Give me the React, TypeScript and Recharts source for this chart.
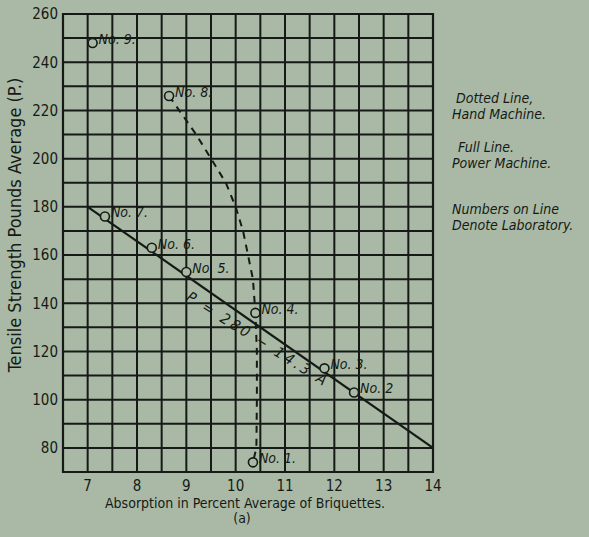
import { ComposedChart, Line, Scatter, XAxis, YAxis, CartesianGrid, ReferenceArea, ReferenceDot, Label } from "recharts"

// laboratory test points
const labNames = ["No. 1.", "No. 2", "No. 3.", "No. 4.", "No. 5.", "No. 6.", "No. 7.", "No. 8.", "No. 9."]
const labAbsorption = [10.35, 12.4, 11.8, 10.4, 9.0, 8.3, 7.35, 8.65, 7.1]
const labStrength = [74, 103, 113, 136, 153, 163, 176, 226, 248]

// full line, power machine  (P = 280 - 14.3 A)
const powerAbsorption = [7, 14]
const powerStrength = [180, 80]

// dotted line, hand machine
const handAbsorption = [8.65, 9.2, 9.5, 9.8, 10.0, 10.15, 10.25, 10.35, 10.4, 10.43, 10.43, 10.42, 10.35]
const handStrength = [226, 210, 200, 190, 180, 170, 160, 150, 136, 120, 100, 80, 74]

const xTicks = [6.5, 7, 7.5, 8, 8.5, 9, 9.5, 10, 10.5, 11, 11.5, 12, 12.5, 13, 13.5, 14]
const yTicks = [70, 80, 90, 100, 110, 120, 130, 140, 150, 160, 170, 180, 190, 200, 210, 220, 230, 240, 250, 260]

const bg = "#a9b9a5"
const ink = "#161a16"
const font = "'Liberation Sans Narrow', 'DejaVu Sans Condensed', sans-serif"

const labData = labNames.map((name, i) => ({ name, a: labAbsorption[i], p: labStrength[i] }))
const powerData = powerAbsorption.map((a, i) => ({ a, p: powerStrength[i] }))
const handData = handAbsorption.map((a, i) => ({ a, p: handStrength[i] }))

function LabPoint(props: any) {
  const { cx, cy, payload } = props
  return (
    <g>
      <circle cx={cx} cy={cy} r={4.5} fill={bg} stroke={ink} strokeWidth={1.6} />
      <text x={cx + 6} y={cy + 1} fontSize={14} fontStyle="italic" fontFamily={font} fill={ink}>
        {payload.name}
      </text>
    </g>
  )
}

function App() {
  return (
    <div style={{ position: "fixed", left: 0, top: 0, width: 589, height: 537, background: bg }}>
      <ComposedChart width={589} height={537} margin={{ top: 14, right: 156, left: 0, bottom: 35 }}>
        <CartesianGrid stroke={ink} strokeWidth={2} />
        <XAxis
          dataKey="a"
          type="number"
          domain={[6.5, 14]}
          ticks={xTicks}
          interval={0}
          tickLine={false}
          axisLine={false}
          height={30}
          tick={{ fill: ink, fontSize: 15, fontFamily: font }}
          tickFormatter={(v) => (Number.isInteger(v) ? String(v) : "")}
        >
          <Label
            content={({ viewBox }: any) => (
              <g fontFamily={font} fill={ink} textAnchor="middle">
                <text x={viewBox.x + viewBox.width / 2 - 3} y={viewBox.y + 36} fontSize={14}>
                  Absorption in Percent Average of Briquettes.
                </text>
                <text x={viewBox.x + viewBox.width / 2 - 6} y={viewBox.y + 51} fontSize={14}>
                  (a)
                </text>
              </g>
            )}
          />
        </XAxis>
        <YAxis
          dataKey="p"
          type="number"
          domain={[70, 260]}
          ticks={yTicks}
          interval={0}
          width={63}
          tickLine={false}
          axisLine={false}
          tickSize={3}
          tick={{ fill: ink, fontSize: 15, fontFamily: font }}
          tickFormatter={(v) => (v % 20 === 0 ? String(v) : "")}
        >
          <Label
            content={({ viewBox }: any) => (
              <text
                x={14}
                y={viewBox.y + viewBox.height / 2 - 18}
                transform={`rotate(-90, 14, ${viewBox.y + viewBox.height / 2 - 18})`}
                textAnchor="middle"
                dominantBaseline="central"
                fontSize={18}
                fontFamily={font}
                fill={ink}
              >
                Tensile Strength Pounds Average (P.)
              </text>
            )}
          />
        </YAxis>
        <ReferenceArea x1={6.5} x2={14} y1={70} y2={260} fill="none" stroke={ink} strokeWidth={2.2} />
        <Line
          data={powerData}
          dataKey="p"
          type="linear"
          stroke={ink}
          strokeWidth={2.2}
          dot={false}
          isAnimationActive={false}
        />
        <Line
          data={handData}
          dataKey="p"
          type="linear"
          stroke={ink}
          strokeWidth={2}
          strokeDasharray="7 6"
          dot={false}
          isAnimationActive={false}
        />
        <ReferenceDot
          x={10.45}
          y={125}
          r={0}
          label={({ viewBox }: any) => (
            <text
              x={viewBox.cx ?? viewBox.x}
              y={viewBox.cy ?? viewBox.y}
              transform={`rotate(32, ${viewBox.cx ?? viewBox.x}, ${viewBox.cy ?? viewBox.y})`}
              textAnchor="middle"
              dominantBaseline="central"
              fontSize={15}
              fontStyle="italic"
              fontFamily={font}
              fill={ink}
              letterSpacing={3}
            >
              P = 280 − 14.3 A
            </text>
          )}
        />
        <Scatter data={labData} dataKey="p" shape={LabPoint} isAnimationActive={false} />
      </ComposedChart>
      <div
        style={{
          position: "absolute",
          left: 452,
          top: 90,
          fontFamily: font,
          fontStyle: "italic",
          fontSize: 14,
          lineHeight: "16px",
          color: ink,
        }}
      >
        <div style={{ paddingLeft: 4 }}>Dotted Line,</div>
        <div>Hand Machine.</div>
        <div style={{ height: 17 }} />
        <div style={{ paddingLeft: 6 }}>Full Line.</div>
        <div>Power Machine.</div>
        <div style={{ height: 30 }} />
        <div>Numbers on Line</div>
        <div>Denote Laboratory.</div>
      </div>
    </div>
  )
}

export default App
